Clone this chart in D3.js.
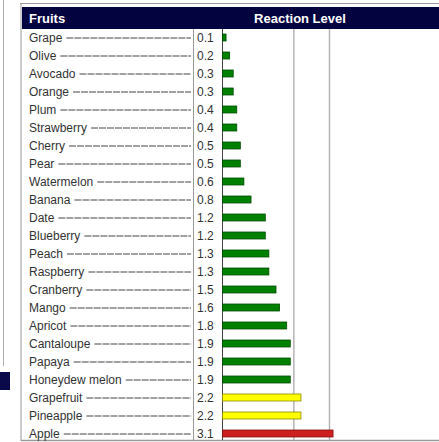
<!DOCTYPE html>
<html>
<head>
<meta charset="utf-8">
<script src="https://cdn.jsdelivr.net/npm/d3@7"></script>
<style>
  body { margin: 0; background: #fff; }
  text { font-family: "Liberation Sans", Arial, sans-serif; }
</style>
</head>
<body>
<svg id="chart"></svg>
<script>
// fruit names and reaction levels, top to bottom
var fruits = ["Grape", "Olive", "Avocado", "Orange", "Plum", "Strawberry", "Cherry", "Pear",
  "Watermelon", "Banana", "Date", "Blueberry", "Peach", "Raspberry", "Cranberry", "Mango",
  "Apricot", "Cantaloupe", "Papaya", "Honeydew melon", "Grapefruit", "Pineapple", "Apple"];
var levels = [0.1, 0.2, 0.3, 0.3, 0.4, 0.4, 0.5, 0.5, 0.6, 0.8, 1.2, 1.2, 1.3, 1.3, 1.5, 1.6,
  1.8, 1.9, 1.9, 1.9, 2.2, 2.2, 3.1];
var gridValues = [2, 3];
var headers = ["Fruits", "Reaction Level"];

var width = 439, height = 442;

var svg = d3.select("#chart")
  .attr("width", width)
  .attr("height", height);

var data = fruits.map(function (f, i) { return { name: f, value: levels[i] }; });

// rows
var y = d3.scaleBand()
  .domain(fruits)
  .range([28.5, 442.5]);

// bar length
var x = d3.scaleLinear()
  .domain([0, 3])
  .range([222.5, 329.5]);

// colour by level band
var color = function (v) {
  if (v >= 3) return { fill: "#cc1f1f", stroke: "#8a1010" };
  if (v >= 2) return { fill: "#ffff00", stroke: "#8a8a00" };
  return { fill: "#008000", stroke: "#004d00" };
};

// odd decorations on the left edge
svg.append("line")
  .attr("x1", 3.5).attr("x2", 3.5).attr("y1", 0).attr("y2", 366)
  .attr("stroke", "#b0b0b0");
svg.append("rect")
  .attr("x", 0).attr("y", 372).attr("width", 10).attr("height", 18)
  .attr("fill", "#0a0a4a");

// outer table lines
svg.append("line")
  .attr("x1", 20).attr("x2", width).attr("y1", 3.5).attr("y2", 3.5)
  .attr("stroke", "#9a9a9a");
svg.append("line")
  .attr("x1", 21).attr("x2", 21).attr("y1", 3).attr("y2", 441)
  .attr("stroke", "#9a9a9a");
svg.append("line")
  .attr("x1", 21).attr("x2", width).attr("y1", 440.5).attr("y2", 440.5)
  .attr("stroke", "#9a9a9a").attr("stroke-width", 1.5);

// header band
svg.append("rect")
  .attr("x", 22).attr("y", 7).attr("width", width - 22).attr("height", 22)
  .attr("fill", "#03033f");
svg.append("text")
  .attr("x", 29).attr("y", 22.5)
  .attr("fill", "#fff").attr("font-size", 13).attr("font-weight", "bold")
  .text(headers[0]);
svg.append("text")
  .attr("x", 300).attr("y", 22.5)
  .attr("text-anchor", "middle")
  .attr("fill", "#fff").attr("font-size", 13).attr("font-weight", "bold")
  .text(headers[1]);

// grid lines
svg.append("g")
  .selectAll("line")
  .data(gridValues)
  .enter()
  .append("line")
  .attr("x1", function (d) { return x(d); })
  .attr("x2", function (d) { return x(d); })
  .attr("y1", 29).attr("y2", 440)
  .attr("stroke", "#b4b4b4").attr("stroke-width", 1.5);

// value column separator and axis
svg.append("line")
  .attr("x1", 193.5).attr("x2", 193.5).attr("y1", 29).attr("y2", 440)
  .attr("stroke", "#9a9a9a");
svg.append("line")
  .attr("x1", x(0)).attr("x2", x(0)).attr("y1", 29).attr("y2", 440)
  .attr("stroke", "#444");

var rows = svg.append("g")
  .selectAll("g")
  .data(data)
  .enter()
  .append("g")
  .attr("transform", function (d) { return "translate(0," + (y(d.name) + y.bandwidth() / 2) + ")"; });

// fruit names
rows.append("text")
  .attr("x", 29).attr("y", 4)
  .attr("font-size", 12).attr("fill", "#333")
  .text(function (d) { return d.name; })
  .each(function (d) { d.textEnd = 29 + this.getComputedTextLength(); });

// dashed leaders
rows.append("line")
  .attr("x1", function (d) { return d.textEnd + 4; })
  .attr("x2", 191)
  .attr("y1", 0.5).attr("y2", 0.5)
  .attr("stroke", "#444").attr("stroke-dasharray", "7,1");

// values
rows.append("text")
  .attr("x", 197).attr("y", 4)
  .attr("font-size", 12).attr("fill", "#333")
  .text(function (d) { return d3.format(".1f")(d.value); });

// bars
rows.append("rect")
  .attr("x", x(0))
  .attr("y", -3.5)
  .attr("width", function (d) { return x(d.value) - x(0); })
  .attr("height", 7)
  .attr("fill", function (d) { return color(d.value).fill; })
  .attr("stroke", function (d) { return color(d.value).stroke; })
  .attr("stroke-width", 0.8);
</script>
</body>
</html>
